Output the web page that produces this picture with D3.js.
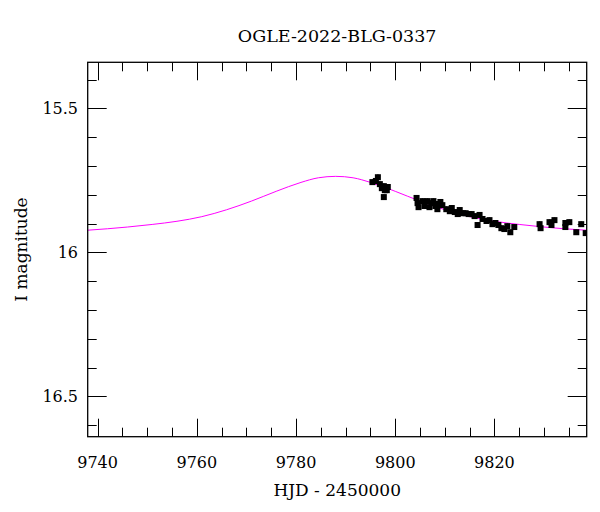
<!DOCTYPE html>
<html><head><meta charset="utf-8">
<script src="https://cdn.jsdelivr.net/npm/d3@7"></script>
<style>body{margin:0;background:#fff}svg{display:block}</style>
</head><body>
<svg id="c" width="600" height="512"></svg>
<script>
const title = "OGLE-2022-BLG-0337";
const xLabel = "HJD - 2450000";
const yLabel = "I magnitude";
const xTicks = [9740, 9760, 9780, 9800, 9820];
const yTicks = [15.5, 16, 16.5];
const yTickLabels = ["15.5", "16", "16.5"];

// observations
const obsT = [9795.4,9796.1,9796.5,9796.9,9797.3,9797.7,9797.9,9798.3,9798.5,9797.7,
  9804.3,9804.5,9804.7,9805.5,9805.9,9806.5,9806.9,9807.3,9807.7,9808.1,9808.7,9809.1,9809.5,9808.5,
  9810.3,9811.0,9811.4,9812.0,9812.6,9813.0,9813.6,9814.2,9814.8,9815.4,9816.0,9816.6,9817.0,9817.6,
  9818.4,9819.0,9819.6,9820.2,9820.8,9821.4,9822.0,9822.6,9823.2,9824.0,
  9829.1,9829.3,9831.1,9831.5,9832.1,9834.3,9834.3,9835.1,9836.5,9837.5,9838.4];
const obsM = [15.756,15.752,15.739,15.763,15.777,15.770,15.784,15.784,15.773,15.808,
  15.811,15.829,15.843,15.822,15.839,15.822,15.843,15.829,15.822,15.839,15.832,15.825,15.836,15.850,
  15.850,15.857,15.846,15.860,15.867,15.853,15.864,15.864,15.867,15.867,15.874,15.905,15.870,15.884,
  15.891,15.888,15.902,15.898,15.905,15.916,15.919,15.909,15.930,15.912,
  15.902,15.916,15.895,15.905,15.888,15.898,15.912,15.895,15.930,15.902,15.933];
const obsErr = 0.009;

// model curve
const modelT = [9738,9742,9746,9751,9756,9761,9766,9771,9776,9781,9784.5,9788,9791.5,9795,9800,9805,9810,9815,9820,9825,9830,9834,9838.6];
const modelM = [15.923,15.918,15.912,15.903,15.892,15.876,15.852,15.822,15.788,15.757,15.741,15.736,15.741,15.757,15.788,15.822,15.852,15.876,15.892,15.903,15.912,15.918,15.923];

const svg = d3.select("#c");
const L = 87.7, R = 586.7, T = 62.3, B = 436.7;
const x = d3.scaleLinear().domain([9738, 9838.6]).range([L, R]);
const y = d3.scaleLinear().domain([15.34, 16.64]).range([T, B]);
const font = "DejaVu Serif";

// ticks
const g = svg.append("g").attr("stroke", "#000").attr("stroke-width", 1);
const xMinor = d3.range(9740, 9839, 5);
xMinor.forEach(v => {
  const major = v % 20 === 0;
  const len = major ? 18 : 9;
  const px = Math.round(x(v)) + 0.5;
  g.append("line").attr("x1", px).attr("x2", px).attr("y1", B).attr("y2", B - len);
  g.append("line").attr("x1", px).attr("x2", px).attr("y1", T).attr("y2", T + len);
});
const yMinor = d3.range(15.4, 16.64, 0.1).map(v => +v.toFixed(1));
yMinor.forEach(v => {
  const major = yTicks.includes(v);
  const len = major ? 19 : 9;
  const py = Math.round(y(v)) + 0.5;
  g.append("line").attr("x1", L).attr("x2", L + len).attr("y1", py).attr("y2", py);
  g.append("line").attr("x1", R).attr("x2", R - len).attr("y1", py).attr("y2", py);
});

// model
const line = d3.line().x((d, i) => x(modelT[i])).y((d, i) => y(modelM[i])).curve(d3.curveMonotoneX);
svg.append("clipPath").attr("id", "pc").append("rect").attr("x", L).attr("y", T).attr("width", R - L).attr("height", B - T);
const plot = svg.append("g").attr("clip-path", "url(#pc)");
plot.append("path").datum(modelT).attr("d", line).attr("fill", "none").attr("stroke", "#ff00ff").attr("stroke-width", 1);

// observations
const pts = obsT.map((t, i) => ({t, m: obsM[i]}));
plot.selectAll("line.err").data(pts).enter().append("line")
  .attr("x1", d => x(d.t)).attr("x2", d => x(d.t))
  .attr("y1", d => y(d.m - obsErr)).attr("y2", d => y(d.m + obsErr))
  .attr("stroke", "#000").attr("stroke-width", 1.5);
plot.selectAll("rect.pt").data(pts).enter().append("rect")
  .attr("x", d => x(d.t) - 3).attr("y", d => y(d.m) - 3)
  .attr("width", 6).attr("height", 6).attr("fill", "#000");

// frame
svg.append("rect").attr("x", L).attr("y", T).attr("width", R - L).attr("height", B - T)
  .attr("fill", "none").attr("stroke", "#000").attr("stroke-width", 1.3);

// labels
svg.selectAll("text.xt").data(xTicks).enter().append("text")
  .attr("x", d => x(d)).attr("y", 468).attr("text-anchor", "middle")
  .attr("font-family", font).attr("font-size", 16).text(d => d);
svg.selectAll("text.yt").data(yTicks).enter().append("text")
  .attr("x", 78).attr("y", d => y(d) + 6).attr("text-anchor", "end")
  .attr("font-family", font).attr("font-size", 16).text((d, i) => yTickLabels[i]);
svg.append("text").attr("x", (L + R) / 2).attr("y", 42).attr("text-anchor", "middle")
  .attr("font-family", font).attr("font-size", 17.5).text(title);
svg.append("text").attr("x", (L + R) / 2).attr("y", 496).attr("text-anchor", "middle")
  .attr("font-family", font).attr("font-size", 17).text(xLabel);
svg.append("text").attr("transform", `translate(27,${(T + B) / 2}) rotate(-90)`).attr("text-anchor", "middle")
  .attr("font-family", font).attr("font-size", 17).text(yLabel);
</script>
</body></html>
